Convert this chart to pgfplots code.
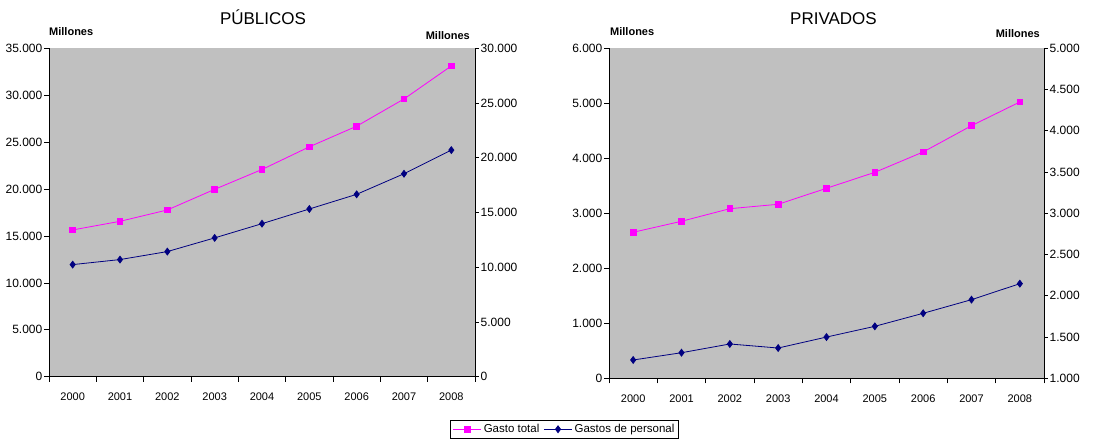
\documentclass[border=0pt]{standalone}
\usepackage{fontspec}
\setmainfont{Liberation Sans}
\usepackage{pgfplots}
\pgfplotsset{compat=1.18}
\definecolor{bggray}{HTML}{C0C0C0}
\definecolor{mag}{HTML}{FF00FF}
\definecolor{navyb}{HTML}{000080}
\tikzset{
  millones/.style={font=\bfseries\fontsize{11}{12}\selectfont, inner sep=0pt},
  ttl/.style={font=\fontsize{17}{19}\selectfont, inner sep=0pt},
  pinkst/.style={mag, line width=0.8pt, mark=square*, mark size=2.8pt, mark options={solid, fill=mag, draw=mag}},
  bluest/.style={navyb, line width=0.8pt, mark=diamond*, mark size=3.4pt, mark options={solid, fill=navyb, draw=navyb}},
}
\pgfplotsset{
  base/.style={
    scale only axis, clip=false,
    xmin=-0.5, xmax=8.5,
    /pgf/number format/assume math mode=true,
    /pgf/number format/1000 sep={.},
    scaled y ticks=false,
    tick align=outside,
    major tick length=4pt,
    tick style={black, line width=0.7pt},
    axis line style={black, line width=0.8pt},
    yticklabel style={font=\fontsize{12}{14}\selectfont, inner sep=1.5pt},
  },
  mainax/.style={base,
    axis background/.style={fill=bggray},
    axis y line*=left, axis x line*=bottom,
    xtick={-0.5,0.5,1.5,2.5,3.5,4.5,5.5,6.5,7.5,8.5}, xticklabels={},
    major tick length=5pt,
    extra x ticks={0,1,2,3,4,5,6,7,8},
    extra x tick labels={2000,2001,2002,2003,2004,2005,2006,2007,2008},
    extra x tick style={tick style={draw=none},
      xticklabel style={font=\fontsize{11}{13}\selectfont, yshift=-7.5pt}},
  },
  secax/.style={base,
    axis y line*=right, axis x line=none,
  },
}
\begin{document}
\begin{tikzpicture}
\useasboundingbox (0,0) rectangle (1104pt,445pt);
% ---------- PUBLICOS ----------
\begin{axis}[mainax, at={(49pt,68.3pt)}, anchor=south west,
  width=426pt, height=328.4pt,
  ymin=0, ymax=35000, ytick={0,5000,...,35000}]
\addplot[pinkst] coordinates {(0,15640) (1,16560) (2,17770) (3,19970) (4,22085) (5,24500) (6,26700) (7,29600) (8,33120)};
\node[millones, anchor=base west] at (rel axis cs:0,1) [yshift=12.5pt] {Millones};
\node[ttl, anchor=base] at (rel axis cs:0.5,1) [yshift=24pt, xshift=1pt] {PÚBLICOS};
\end{axis}
\begin{axis}[secax, at={(49pt,68.3pt)}, anchor=south west,
  width=426pt, height=328.4pt,
  ymin=0, ymax=30000, ytick={0,5000,...,30000},
  legend style={at={(1.21,-0.132)}, anchor=north, legend columns=2, draw=black, line width=0.6pt,
    font=\fontsize{11.5}{13}\selectfont, inner sep=2pt,
    /tikz/every even column/.append style={column sep=2pt}},
  legend image code/.code={\draw[mark repeat=2,mark phase=2] plot coordinates {(0cm,0cm) (0.5cm,0cm) (1cm,0cm)};}]
\addlegendimage{pinkst}
\addlegendentry{Gasto total}
\addplot[bluest] coordinates {(0,10240) (1,10700) (2,11430) (3,12680) (4,13980) (5,15320) (6,16660) (7,18540) (8,20700)};
\addlegendentry{Gastos de personal}
\node[millones, anchor=base east] at (rel axis cs:1,1) [yshift=8.3pt, xshift=-5pt] {Millones};
\end{axis}
% ---------- PRIVADOS ----------
\begin{axis}[mainax, at={(609pt,66.7pt)}, anchor=south west,
  width=435pt, height=330pt,
  ymin=0, ymax=6000, ytick={0,1000,...,6000}]
\addplot[pinkst] coordinates {(0,2655) (1,2855) (2,3084) (3,3164) (4,3455) (5,3745) (6,4115) (7,4593) (8,5024)};
\node[millones, anchor=base west] at (rel axis cs:0,1) [yshift=13pt, xshift=1pt] {Millones};
\node[ttl, anchor=base] at (rel axis cs:0.5,1) [yshift=24pt, xshift=7pt] {PRIVADOS};
\end{axis}
\begin{axis}[secax, at={(609pt,66.7pt)}, anchor=south west,
  width=435pt, height=330pt,
  ymin=1000, ymax=5000, ytick={1000,1500,...,5000}]
\addplot[bluest] coordinates {(0,1222) (1,1310) (2,1416) (3,1367) (4,1500) (5,1630) (6,1788) (7,1953) (8,2147)};
\node[millones, anchor=base east] at (rel axis cs:1,1) [yshift=11pt, xshift=-4pt] {Millones};
\end{axis}
\end{tikzpicture}
\end{document}
